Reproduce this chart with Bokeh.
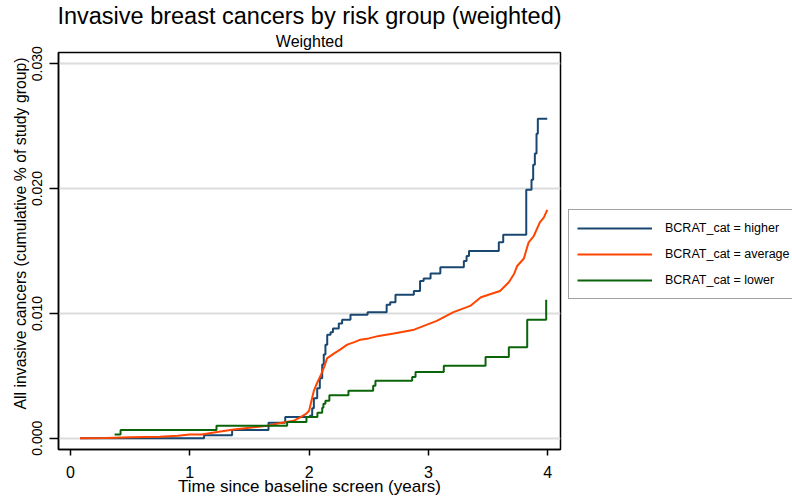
from bokeh.plotting import figure
from bokeh.layouts import row
from bokeh.models import (Title, Legend, LegendItem, FixedTicker, PrintfTickFormatter, Range1d)
from bokeh.embed import file_html
from bokeh.resources import INLINE

# ---- data (years since baseline, cumulative proportion) ----
higher_t = [0.08, 1.12, 1.355, 1.66, 1.80, 2.006, 2.026, 2.04, 2.068, 2.09, 2.11, 2.123, 2.137, 2.152,
            2.18, 2.20, 2.249, 2.277, 2.347, 2.49, 2.65, 2.68, 2.724, 2.878, 2.93, 2.96, 3.018, 3.10,
            3.297, 3.32, 3.34, 3.59, 3.627, 3.82, 3.864, 3.878, 3.892, 3.906, 3.917, 3.996]
higher_v = [0.0, 0.00024, 0.00067, 0.00125, 0.0017, 0.0018, 0.0024, 0.0032, 0.0040, 0.0048, 0.0059, 0.0067,
            0.0075, 0.0083, 0.0085, 0.0088, 0.0092, 0.0095, 0.0099, 0.0101, 0.0107, 0.0109, 0.0115, 0.0118,
            0.0126, 0.0128, 0.0132, 0.0137, 0.0142, 0.0146, 0.0150, 0.0157, 0.0163, 0.0199, 0.0207, 0.0219,
            0.0228, 0.0244, 0.0256, 0.0256]

average_t = [0.08, 0.30, 0.50, 0.75, 0.90, 1.00, 1.10, 1.23, 1.37, 1.50, 1.65, 1.75, 1.87, 1.93, 1.98,
             2.00, 2.02, 2.04, 2.07, 2.10, 2.13, 2.15, 2.18, 2.21, 2.26, 2.32, 2.38, 2.43, 2.50, 2.585,
             2.71, 2.88, 3.07, 3.21, 3.35, 3.44, 3.60, 3.674, 3.72, 3.744, 3.80, 3.84, 3.883, 3.934,
             3.968, 3.996]
average_v = [0.0, 0.00003, 0.00008, 0.00013, 0.0002, 0.0003, 0.0003, 0.0005, 0.0007, 0.00085, 0.001,
             0.0012, 0.0014, 0.0017, 0.0020, 0.0022, 0.0030, 0.0038, 0.0045, 0.0051, 0.0058, 0.0064,
             0.0066, 0.0068, 0.0071, 0.0075, 0.0077, 0.0079, 0.0080, 0.0082, 0.0084, 0.0087, 0.0094,
             0.0101, 0.0106, 0.0113, 0.0118, 0.0125, 0.0132, 0.0138, 0.0144, 0.0157, 0.0162, 0.0173,
             0.0177, 0.0183]

lower_t = [0.37, 0.42, 1.224, 1.816, 1.978, 2.07, 2.11, 2.12, 2.137, 2.17, 2.33, 2.537, 2.556, 2.864,
           2.892, 3.129, 3.479, 3.674, 3.828, 3.987]
lower_v = [0.0003, 0.00067, 0.0010, 0.0013, 0.0017, 0.00204, 0.00244, 0.00276, 0.0030, 0.00345, 0.0038,
           0.0042, 0.0046, 0.0049, 0.0053, 0.0058, 0.0065, 0.0073, 0.0095, 0.0111]

x_ticks = [0, 1, 2, 3, 4]
y_ticks = [0.0, 0.01, 0.02, 0.03]
series_labels = ["BCRAT_cat = higher", "BCRAT_cat = average", "BCRAT_cat = lower"]
title_text = "Invasive breast cancers by risk group (weighted)"
subtitle_text = "Weighted"
x_label = "Time since baseline screen (years)"
y_label = "All invasive cancers (cumulative % of study group)"

FONT = "Liberation Sans"
C_HIGH, C_AVG, C_LOW = "#1a476f", "#ff4500", "#0a640a"
LW = 2

p = figure(width=562, height=498, output_backend="svg", toolbar_location=None,
           x_range=Range1d(-0.1, 4.107), y_range=Range1d(-0.0009, 0.0309),
           min_border_left=58, min_border_right=2, min_border_top=52, min_border_bottom=46,
           title=None)
p.background_fill_color = "white"
p.border_fill_color = "white"
p.outline_line_color = "black"
p.outline_line_width = 1.5

p.step(higher_t, higher_v, mode="after", line_color=C_HIGH, line_width=LW)
p.line(average_t, average_v, line_color=C_AVG, line_width=LW)
p.step(lower_t, lower_v, mode="after", line_color=C_LOW, line_width=LW)

# grid
p.xgrid.visible = False
p.ygrid.ticker = FixedTicker(ticks=y_ticks)
p.ygrid.grid_line_color = "#dcdcdc"
p.ygrid.grid_line_width = 2
p.ygrid.level = "underlay"

# axes
xa = p.xaxis[0]
xa.ticker = FixedTicker(ticks=x_ticks)
xa.axis_line_color = "black"
xa.axis_line_width = 1.5
xa.major_tick_out = 6
xa.major_tick_in = 0
xa.major_tick_line_width = 1.5
xa.minor_tick_line_color = None
xa.major_label_text_font = FONT
xa.major_label_text_font_size = "16px"
xa.major_label_text_color = "black"
xa.major_label_standoff = 10
xa.axis_label = x_label
xa.axis_label_text_font = FONT
xa.axis_label_text_font_size = "17px"
xa.axis_label_text_font_style = "normal"
xa.axis_label_text_color = "black"
xa.axis_label_standoff = -4

ya = p.yaxis[0]
ya.ticker = FixedTicker(ticks=y_ticks)
ya.formatter = PrintfTickFormatter(format="%.3f")
ya.axis_line_color = "black"
ya.axis_line_width = 1.5
ya.major_tick_out = 9
ya.major_tick_in = 0
ya.major_tick_line_width = 1.5
ya.minor_tick_line_color = None
ya.major_label_orientation = "vertical"
ya.major_label_text_font = FONT
ya.major_label_text_font_size = "14px"
ya.major_label_text_color = "black"
ya.major_label_standoff = 7

# y-axis title as a left-side Title, starting a little above the bottom of the frame
p.add_layout(Title(text=y_label, align="left", offset=40, text_font=FONT, text_font_size="15.8px",
                   text_font_style="normal", text_color="black", standoff=2), "left")

# titles (first added sits closest to the plot)
p.add_layout(Title(text=subtitle_text, align="center", text_font=FONT, text_font_size="16px",
                   text_font_style="normal", text_color="black", standoff=5), "above")
p.add_layout(Title(text=title_text, align="center", text_font=FONT, text_font_size="23.5px",
                   text_font_style="normal", text_color="black", standoff=0), "above")

# legend panel: a second, axis-free figure to the right of the plot
lg = figure(width=230, height=498, output_backend="svg", toolbar_location=None,
            x_range=Range1d(100, 101), y_range=Range1d(100, 101),
            x_axis_location=None, y_axis_location=None,
            min_border_left=0, min_border_right=0, min_border_top=0, min_border_bottom=0,
            title=None)
lg.outline_line_color = None
lg.grid.visible = False
lg.background_fill_color = "white"
lg.border_fill_color = "white"
# same series, out of this panel's view: only their legend glyphs show
d1 = lg.step(higher_t, higher_v, mode="after", line_color=C_HIGH, line_width=LW)
d2 = lg.line(average_t, average_v, line_color=C_AVG, line_width=LW)
d3 = lg.step(lower_t, lower_v, mode="after", line_color=C_LOW, line_width=LW)

legend = Legend(items=[LegendItem(label=series_labels[0], renderers=[d1]),
                       LegendItem(label=series_labels[1], renderers=[d2]),
                       LegendItem(label=series_labels[2], renderers=[d3])],
                location=(6, 150), orientation="vertical",
                label_text_font=FONT, label_text_font_size="12.5px", label_text_color="black",
                glyph_width=75, glyph_height=20, label_height=20, label_standoff=13,
                spacing=6, padding=8, margin=0,
                border_line_color="#444444", border_line_width=1.2,
                background_fill_color="white", background_fill_alpha=1.0)
lg.add_layout(legend, "center")

layout = row(p, lg, spacing=0)
open("out.html", "w").write(file_html(layout, INLINE))
